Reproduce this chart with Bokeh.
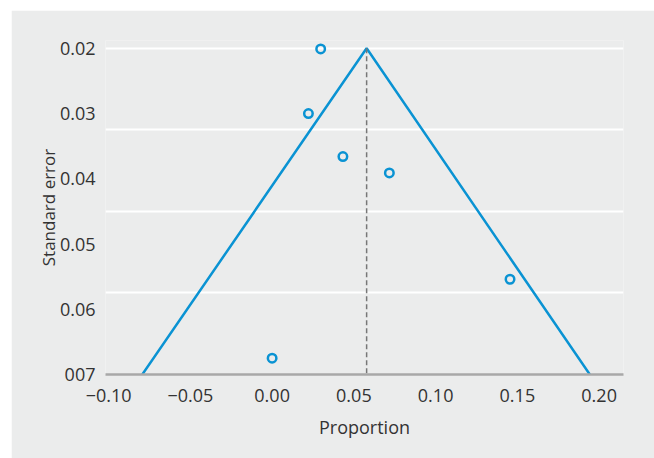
from bokeh.plotting import figure
from bokeh.models import Range1d, FixedTicker, ColumnDataSource
from bokeh.embed import file_html
from bokeh.resources import INLINE

# data
proportion = [0.0297, 0.0222, 0.0433, 0.0717, 0.1455, 0.0]
std_error = [0.0201, 0.0300, 0.0366, 0.0391, 0.0554, 0.0675]
funnel_x = [-0.0794, 0.0578, 0.1943]
funnel_y = [0.07, 0.02, 0.07]
pooled = 0.0578
x_ticks = [-0.10, -0.05, 0.0, 0.05, 0.10, 0.15, 0.20]
x_labels = ["\u22120.10", "\u22120.05", "0.00", "0.05", "0.10", "0.15", "0.20"]
y_ticks = [0.02, 0.03, 0.04, 0.05, 0.06, 0.07]
y_labels = ["0.02", "0.03", "0.04", "0.05", "0.06", "007"]
y_grid = [0.02, 0.0325, 0.045, 0.0575]

BG = "#EBECEC"
BLUE = "#0A93D3"
TXT = "#333333"
FONT = "Open Sans"

p = figure(width=643, height=448, output_backend="svg", toolbar_location=None,
           x_range=Range1d(-0.1019, 0.2149), y_range=Range1d(0.07, 0.0188),
           margin=(10, 0, 0, 11))
p.min_border_left = 94
p.min_border_right = 31
p.min_border_top = 30
p.min_border_bottom = 84
p.background_fill_color = BG
p.border_fill_color = BG
p.outline_line_color = None

p.xgrid.visible = False
p.ygrid.ticker = FixedTicker(ticks=y_grid)
p.ygrid.grid_line_color = "white"
p.ygrid.grid_line_width = 2

# funnel
p.line(funnel_x, funnel_y, line_color=BLUE, line_width=2.5)
p.line([pooled, pooled], [funnel_y[1], funnel_y[0]], line_color="#777777",
       line_width=1.5, line_dash="5 3")
src = ColumnDataSource(dict(x=proportion, y=std_error))
p.scatter("x", "y", source=src, size=8.5, fill_color=None, line_color=BLUE, line_width=2.5)

xa = p.xaxis[0]
xa.ticker = FixedTicker(ticks=x_ticks)
xa.major_label_overrides = {t: l for t, l in zip(x_ticks, x_labels)}
xa.axis_line_color = "#A8A8A8"
xa.axis_line_width = 2.5
xa.major_tick_line_color = None
xa.minor_tick_line_color = None
xa.major_label_standoff = 8
xa.axis_label = "Proportion"
xa.axis_label_standoff = 10

ya = p.yaxis[0]
ya.ticker = FixedTicker(ticks=y_ticks)
ya.major_label_overrides = {t: l for t, l in zip(y_ticks, y_labels)}
ya.axis_line_color = None
ya.major_tick_line_color = None
ya.minor_tick_line_color = None
ya.major_label_standoff = 4
ya.axis_label = "Standard error"
ya.axis_label_standoff = -3

for ax in (xa, ya):
    ax.major_label_text_font = FONT
    ax.major_label_text_font_size = "18px"
    ax.major_label_text_color = TXT
    ax.axis_label_text_font = FONT
    ax.axis_label_text_font_size = "18px"
    ax.axis_label_text_font_style = "normal"
    ax.axis_label_text_color = TXT
ya.axis_label_text_font_size = "17px"

open("out.html", "w").write(file_html(p, INLINE))
